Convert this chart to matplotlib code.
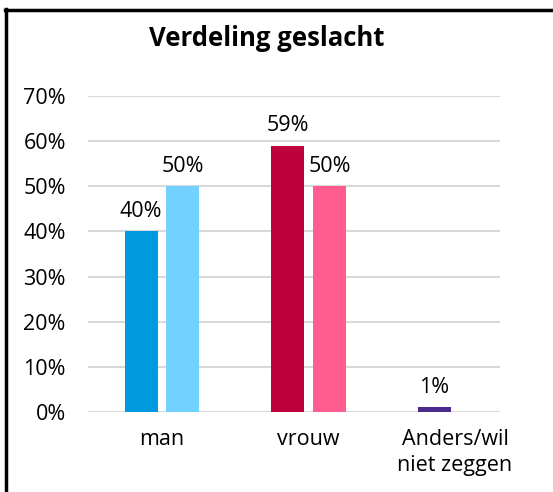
import matplotlib
matplotlib.use("Agg")
import matplotlib.pyplot as plt
from matplotlib.lines import Line2D
import numpy as np

# data
categories = ["man", "vrouw", "Anders/wil\nniet zeggen"]
serie_1 = [0.40, 0.59, 0.01]
serie_2 = [0.50, 0.50, None]
kleuren_1 = ["#009ADE", "#BE003C", "#4B2A8E"]
kleuren_2 = ["#72D1FF", "#FF5C8F", "#FFFFFF"]
yticks = [0, 0.1, 0.2, 0.3, 0.4, 0.5, 0.6, 0.7]

plt.rcParams["font.family"] = ["Open Sans", "DejaVu Sans"]
fs = 15.5

W, H = 553, 492
fig = plt.figure(figsize=(W / 100, H / 100), dpi=100)
ax = fig.add_axes([88 / W, (H - 412) / H, (500 - 88) / W, (412 - 96) / H])

x = np.arange(len(categories))
bw = 0.225
off = 0.143
for i in range(len(categories)):
    v1 = serie_1[i]
    ax.bar(x[i] - off, v1, bw, color=kleuren_1[i], zorder=3)
    ax.annotate(f"{v1:.0%}", (x[i] - off, v1), xytext=(0, 7), textcoords="offset points",
                ha="center", va="bottom", fontsize=fs)
    v2 = serie_2[i]
    if v2 is not None:
        ax.bar(x[i] + off, v2, bw, color=kleuren_2[i], zorder=3)
        ax.annotate(f"{v2:.0%}", (x[i] + off, v2), xytext=(0, 7), textcoords="offset points",
                    ha="center", va="bottom", fontsize=fs)

ax.set_xlim(-0.505, 2.307)
ax.set_ylim(0, 0.7)
ax.set_yticks(yticks)
ax.set_yticklabels([f"{t:.0%}" for t in yticks], fontsize=fs)
ax.set_xticks(x)
ax.set_xticklabels(categories, fontsize=fs, linespacing=1.35)
ax.tick_params(length=0, axis="y", pad=16)
ax.tick_params(length=0, axis="x", pad=12)
ax.grid(axis="y", color="#D9D9D9", linewidth=1.5, zorder=0)
for s in ax.spines.values():
    s.set_visible(False)

fig.text(267 / W, 1 - 38 / H, "Verdeling geslacht", ha="center", va="center",
         fontsize=18.5, fontweight="bold")

# rand
fig.add_artist(Line2D([6 / W, 6 / W], [0, 1 - 9 / H], color="black", linewidth=2.5,
                      transform=fig.transFigure))
fig.add_artist(Line2D([5 / W, 1], [1 - 9.5 / H, 1 - 9.5 / H], color="black", linewidth=2.5,
                      transform=fig.transFigure))

fig.savefig("out.png", dpi=100)
